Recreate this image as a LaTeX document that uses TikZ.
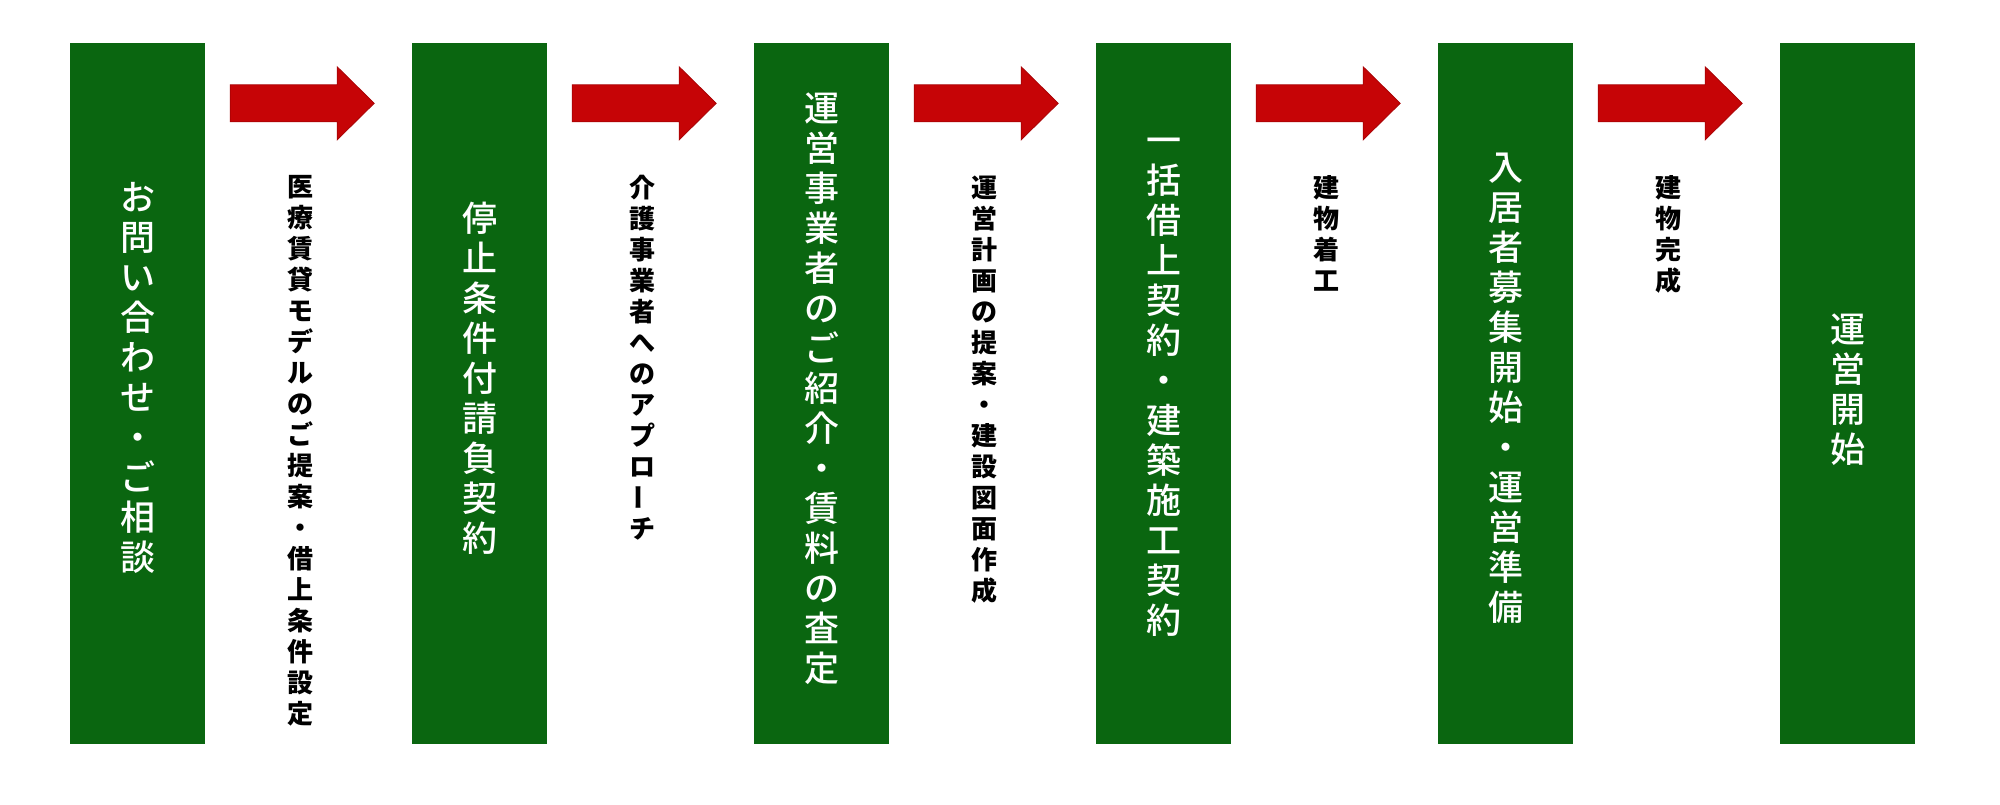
\documentclass[tikz,border=0pt]{standalone}
\usepackage{fontspec}
\usepackage{graphicx}
\setmainfont{Noto Sans CJK JP}
\newfontfamily\stagefont{Noto Sans CJK JP}[UprightFont={* Medium}]
\usetikzlibrary{calc}
\definecolor{stagegreen}{RGB}{10,102,16}
\definecolor{arrowred}{RGB}{198,4,6}
\makeatletter
\def\tate@do{\@tfor\tch:=}
\newcommand\tate[2]{\edef\tate@list{#2}\vbox{\baselineskip=#1\lineskiplimit=-100pt
  \expandafter\tate@do\tate@list\do{\hbox to 1em{\hss\tch\hss}}}}
\makeatother
\protected\def\tatebar{\raisebox{-0.12em}{\rotatebox{90}{ー}}}

\begin{document}
\begin{tikzpicture}[x=1pt,y=-1pt,
  stagebox/.style={fill=stagegreen,minimum width=135pt,minimum height=701pt,inner sep=0pt},
  stagetext/.style={text=white,inner sep=0pt,font=\stagefont\fontsize{35}{40}\selectfont},
  steplabel/.style={text=black,inner sep=0pt,anchor=north,font=\bfseries\fontsize{26}{31}\selectfont}]
\useasboundingbox[fill=white] (0,0) rectangle (2000,804);
\foreach \i/\dy/\txt in {1/-15.5/お問い合わせ・ご相談,
    2/-15.5/停止条件付請負契約,
    3/-4.5/運営事業者のご紹介・賃料の査定,
    4/-6/一括借上契約・建築施工契約,
    5/-5.5/入居者募集開始・運営準備,
    6/-3.5/運営開始}{
  \node[stagebox] (box\i) at (137.5+342*\i-342,393.5) {};
  \node[stagetext] (txt\i) at ($(box\i.center)+(0,\dy)$) {\tate{40pt}{\txt}};
}
\foreach \i in {1,...,5}{
  \coordinate (a\i) at ($(box\i.north east)+(25,60.5)$);
  \filldraw[fill=arrowred,draw=arrowred!85!black,line width=.8pt] (a\i) ++(0,-18.5) -- ++(107,0) -- ++(0,-18)
    -- ++(37,36.5) -- ++(-37,36.5) -- ++(0,-18) -- ++(-107,0) -- cycle;
}
\foreach \i/\txt in {1/医療賃貸モデルのご提案・借上条件設定,
    2/介護事業者へのアプロ\tatebar チ,
    3/運営計画の提案・建設図面作成,
    4/建物着工,
    5/建物完成}
  \node[steplabel] (lab\i) at ($(a\i)+(70,72)$) {\tate{31pt}{\txt}};
\end{tikzpicture}
\end{document}
